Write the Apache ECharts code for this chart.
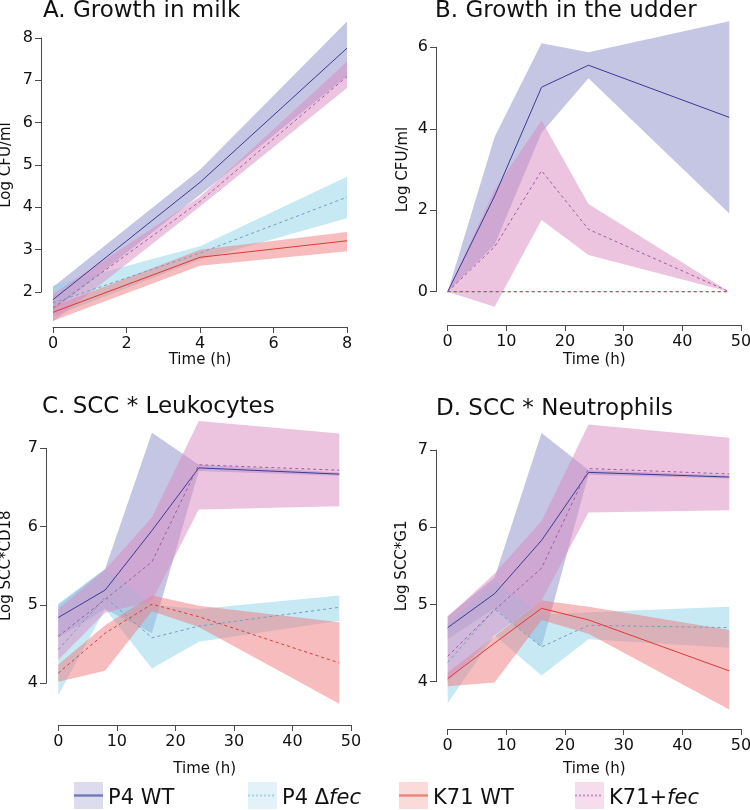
<!DOCTYPE html>
<html>
<head>
<meta charset="utf-8">
<script src="https://cdn.jsdelivr.net/npm/echarts@6/dist/echarts.min.js"></script>
<style>
html,body{margin:0;padding:0;background:#ffffff;}
#chart{width:750px;height:810px;}
</style>
</head>
<body>
<div id="chart"></div>
<script>
// ---------------- DATA ----------------
const seriesNames = ['P4 WT', 'P4 Δfec', 'K71 WT', 'K71+fec'];

// Panel A: growth in milk
const timesMilk = [0, 4, 8];
const milkTimeTicks = [0, 2, 4, 6, 8];
const milkLogTicks = [2, 3, 4, 5, 6, 7, 8];
const milkP4wt = [1.82, 4.59, 7.76];
const milkP4wtLo = [1.55, 4.30, 7.10];
const milkP4wtHi = [2.12, 4.89, 8.39];
const milkP4fec = [1.74, 2.92, 4.24];
const milkP4fecLo = [1.42, 2.76, 3.74];
const milkP4fecHi = [2.15, 3.08, 4.72];
const milkK71wt = [1.52, 2.82, 3.21];
const milkK71wtLo = [1.32, 2.62, 2.96];
const milkK71wtHi = [1.66, 3.00, 3.42];
const milkK71fec = [1.62, 4.14, 7.09];
const milkK71fecLo = [1.30, 4.02, 6.82];
const milkK71fecHi = [1.95, 4.25, 7.44];

// Panel B: growth in the udder
const timesUdder = [0, 8, 16, 24, 48];
const udderTimeTicks = [0, 10, 20, 30, 40, 50];
const udderLogTicks = [0, 2, 4, 6];
const udderP4wt = [0, 2.35, 5.02, 5.56, 4.28];
const udderP4wtLo = [0, 1.15, 3.90, 5.24, 1.92];
const udderP4wtHi = [0, 3.80, 6.10, 5.88, 6.64];
const udderP4fec = [0, 0, 0, 0, 0];
const udderK71wt = [0, 0, 0, 0, 0];
const udderK71fec = [0, 1.10, 2.97, 1.53, 0];
const udderK71fecLo = [0, -0.37, 1.76, 0.90, 0];
const udderK71fecHi = [0, 2.50, 4.20, 2.15, 0];

// Panel C: SCC * leukocytes
const timesScc = [0, 8, 16, 24, 48];
const sccTimeTicks = [0, 10, 20, 30, 40, 50];
const sccLogTicks = [4, 5, 6, 7];
const leuP4wt = [4.84, 5.19, 5.95, 6.75, 6.67];
const leuP4wtLo = [4.58, 4.95, 4.64, 6.71, 6.65];
const leuP4wtHi = [5.00, 5.46, 7.20, 6.79, 6.69];
const leuP4fec = [4.43, 5.10, 4.58, 4.73, 4.97];
const leuP4fecLo = [3.85, 4.95, 4.19, 4.53, 4.80];
const leuP4fecHi = [5.02, 5.46, 5.00, 4.95, 5.12];
const leuK71wt = [4.13, 4.64, 5.01, 4.85, 4.26];
const leuK71wtLo = [4.02, 4.16, 4.92, 4.72, 3.74];
const leuK71wtHi = [4.24, 4.74, 5.12, 4.99, 4.78];
const leuK71fec = [4.60, 5.07, 5.55, 6.79, 6.72];
const leuK71fecLo = [4.30, 4.90, 5.05, 6.22, 6.26];
const leuK71fecHi = [4.95, 5.45, 6.12, 7.35, 7.19];

// Panel D: SCC * neutrophils
const neuP4wt = [4.70, 5.14, 5.83, 6.71, 6.65];
const neuP4wtLo = [4.55, 4.95, 4.45, 6.68, 6.63];
const neuP4wtHi = [4.85, 5.35, 7.22, 6.74, 6.67];
const neuP4fec = [4.25, 4.94, 4.45, 4.73, 4.70];
const neuP4fecLo = [3.72, 4.60, 4.08, 4.55, 4.44];
const neuP4fecHi = [4.75, 5.30, 4.87, 4.90, 4.97];
const neuK71wt = [4.04, 4.50, 4.95, 4.80, 4.14];
const neuK71wtLo = [3.94, 3.99, 4.80, 4.62, 3.64];
const neuK71wtHi = [4.12, 4.59, 5.05, 4.97, 4.67];
const neuK71fec = [4.33, 4.93, 5.47, 6.76, 6.69];
const neuK71fecLo = [4.00, 4.60, 5.05, 6.19, 6.22];
const neuK71fecHi = [4.84, 5.40, 6.08, 7.33, 7.16];

// ---------------- STYLE ----------------
const FONT = 'DejaVu Sans';
const AXIS_COLOR = '#4a4a4a';
const TEXT_COLOR = '#111111';
const lineColors = ['#3b3b96', '#6f9ec6', '#dc3a32', '#a4589e'];
const lineZ = [3, 3, 5, 3];
const bandColors = ['rgba(139,139,201,0.5)', 'rgba(141,211,233,0.5)', 'rgba(239,121,125,0.5)', 'rgba(217,137,193,0.5)'];
const legendBoxColors = ['#dcdcee', '#e3f2f9', '#fbdada', '#f5ddee'];
const legendLineColors = ['#7378bb', '#9fd3ea', '#ee8479', '#cc8fc6'];
const legendLefts = [74, 248, 399, 575];

const panels = [
  { title: 'A. Growth in milk', yName: 'Log CFU/ml', times: timesMilk, xTicks: milkTimeTicks, yTicks: milkLogTicks,
    mean: [milkP4wt, milkP4fec, milkK71wt, milkK71fec],
    lo: [milkP4wtLo, milkP4fecLo, milkK71wtLo, milkK71fecLo],
    hi: [milkP4wtHi, milkP4fecHi, milkK71wtHi, milkK71fecHi],
    dashed: [false, true, false, true] },
  { title: 'B. Growth in the udder', yName: 'Log CFU/ml', times: timesUdder, xTicks: udderTimeTicks, yTicks: udderLogTicks,
    mean: [udderP4wt, udderP4fec, udderK71wt, udderK71fec],
    lo: [udderP4wtLo, null, null, udderK71fecLo],
    hi: [udderP4wtHi, null, null, udderK71fecHi],
    dashed: [false, true, true, true] },
  { title: 'C. SCC * Leukocytes', yName: 'Log SCC*CD18', times: timesScc, xTicks: sccTimeTicks, yTicks: sccLogTicks,
    mean: [leuP4wt, leuP4fec, leuK71wt, leuK71fec],
    lo: [leuP4wtLo, leuP4fecLo, leuK71wtLo, leuK71fecLo],
    hi: [leuP4wtHi, leuP4fecHi, leuK71wtHi, leuK71fecHi],
    dashed: [false, true, true, true] },
  { title: 'D. SCC * Neutrophils', yName: 'Log SCC*G1', times: timesScc, xTicks: sccTimeTicks, yTicks: sccLogTicks,
    mean: [neuP4wt, neuP4fec, neuK71wt, neuK71fec],
    lo: [neuP4wtLo, neuP4fecLo, neuK71wtLo, neuK71fecLo],
    hi: [neuP4wtHi, neuP4fecHi, neuK71wtHi, neuK71fecHi],
    dashed: [false, true, false, true] }
];

const layouts = [
  { grid: { left: 53, top: 38, width: 294, height: 254 }, xOffset: 35, yOffset: 12, xNameGap: 26, yNameGap: 27, title: { left: 43, top: 0 } },
  { grid: { left: 447.7, top: 47.3, width: 293.3, height: 244.4 }, xOffset: 33.3, yOffset: 11.7, xNameGap: 28, yNameGap: 25, title: { left: 435, top: 0 } },
  { grid: { left: 58.3, top: 448.3, width: 292.7, height: 235 }, xOffset: 41.7, yOffset: 12.3, xNameGap: 37, yNameGap: 32, title: { left: 42, top: 396 } },
  { grid: { left: 447.7, top: 450, width: 293.3, height: 231.7 }, xOffset: 47.3, yOffset: 11.7, xNameGap: 33, yNameGap: 26, title: { left: 436, top: 398 } }
];

function bandSeries(k, times, lo, hi, color) {
  return {
    type: 'custom', xAxisIndex: k, yAxisIndex: k, silent: true, clip: false, z: 1,
    data: times.map((t, i) => [t, lo[i], hi[i]]),
    encode: { x: 0, y: [1, 2] },
    renderItem: function (params, api) {
      if (params.dataIndex !== 0) return null;
      const pts = [];
      for (let i = 0; i < times.length; i++) pts.push(api.coord([times[i], hi[i]]));
      for (let i = times.length - 1; i >= 0; i--) pts.push(api.coord([times[i], lo[i]]));
      return { type: 'polygon', shape: { points: pts }, style: { fill: color } };
    }
  };
}

function axisCommon() {
  return {
    axisLine: { show: true, onZero: false, lineStyle: { color: AXIS_COLOR, width: 1 } },
    axisTick: { show: true, length: 6, lineStyle: { color: AXIS_COLOR, width: 1 } },
    splitLine: { show: false },
    nameLocation: 'middle',
    nameTextStyle: { fontFamily: FONT, fontSize: 15, color: TEXT_COLOR }
  };
}

const option = {
  animation: false,
  backgroundColor: '#ffffff',
  title: [], grid: [], xAxis: [], yAxis: [], series: [], legend: []
};

panels.forEach((p, k) => {
  const L = layouts[k];
  option.title.push({
    text: p.title, left: L.title.left, top: L.title.top, padding: 0,
    textStyle: { fontFamily: FONT, fontSize: 23, fontWeight: 'normal', color: TEXT_COLOR }
  });
  option.grid.push(Object.assign({ outerBoundsMode: 'none', containLabel: false }, L.grid));
  const xT = p.xTicks, yT = p.yTicks;
  option.xAxis.push(Object.assign(axisCommon(), {
    type: 'value', gridIndex: k, position: 'bottom',
    min: xT[0], max: xT[xT.length - 1], interval: xT[1] - xT[0],
    offset: L.xOffset, name: 'Time (h)', nameGap: L.xNameGap,
    axisLabel: { fontFamily: FONT, fontSize: 16, color: TEXT_COLOR, margin: 9 }
  }));
  option.yAxis.push(Object.assign(axisCommon(), {
    type: 'value', gridIndex: k, position: 'left',
    min: yT[0], max: yT[yT.length - 1], interval: yT[1] - yT[0],
    offset: L.yOffset, name: p.yName, nameGap: L.yNameGap,
    axisLabel: { fontFamily: FONT, fontSize: 16, color: TEXT_COLOR, margin: 8 }
  }));
  for (let j = 0; j < 4; j++) {
    if (p.lo[j] && p.hi[j]) option.series.push(bandSeries(k, p.times, p.lo[j], p.hi[j], bandColors[j]));
  }
  for (let j = 0; j < 4; j++) {
    option.series.push({
      type: 'line', name: seriesNames[j], xAxisIndex: k, yAxisIndex: k,
      data: p.times.map((t, i) => [t, p.mean[j][i]]),
      showSymbol: false, symbol: 'none', clip: false, silent: true, z: lineZ[j],
      lineStyle: { color: lineColors[j], width: 1, type: p.dashed[j] ? [3, 3] : 'solid' },
      itemStyle: { color: lineColors[j] },
      emphasis: { disabled: true }
    });
  }
});

// legend: a light box layer and a line layer on top of it
function dotsPath() {
  let s = 'path://M0,0L0,0';
  for (let x = 0; x < 28; x += 4) s += 'M' + x + ',12.5h2v2h-2z';
  return s + 'M29,27L29,27';
}
const solidPath = 'path://M0,0L0,0M0,12.3h29v2.4h-29zM29,27L29,27';
const legendIcons = [solidPath, dotsPath(), solidPath, dotsPath()];
function richFor(color) {
  return {
    n: { fontFamily: FONT, fontSize: 21, color: color, padding: [6, 0, 0, 0] },
    i: { fontFamily: FONT, fontSize: 21, fontStyle: 'italic', color: color, padding: [6, 0, 0, 0] }
  };
}
function legendFormatter(name) {
  if (name === 'P4 Δfec') return '{n|P4 Δ}{i|fec}';
  if (name === 'K71+fec') return '{n|K71+}{i|fec}';
  return '{n|' + name + '}';
}
seriesNames.forEach((n, j) => {
  option.legend.push({
    left: legendLefts[j], top: 782, padding: 0, itemWidth: 29, itemHeight: 27, selectedMode: false, z: 5,
    itemStyle: { borderWidth: 0 },
    data: [{ name: n, icon: 'rect', itemStyle: { color: legendBoxColors[j], borderWidth: 0 } }],
    formatter: legendFormatter,
    textStyle: { fontFamily: FONT, fontSize: 21, color: TEXT_COLOR, rich: richFor(TEXT_COLOR) }
  });
  option.legend.push({
    left: legendLefts[j], top: 782, padding: 0, itemWidth: 29, itemHeight: 27, selectedMode: false, z: 10,
    itemStyle: { borderWidth: 0 },
    data: [{ name: n, icon: legendIcons[j], itemStyle: { color: legendLineColors[j], borderWidth: 0 } }],
    formatter: legendFormatter,
    textStyle: { fontFamily: FONT, fontSize: 21, color: 'rgba(0,0,0,0)', rich: richFor('rgba(0,0,0,0)') }
  });
});

const chart = echarts.init(document.getElementById('chart'), null, { renderer: 'canvas' });
chart.setOption(option);
</script>
</body>
</html>
